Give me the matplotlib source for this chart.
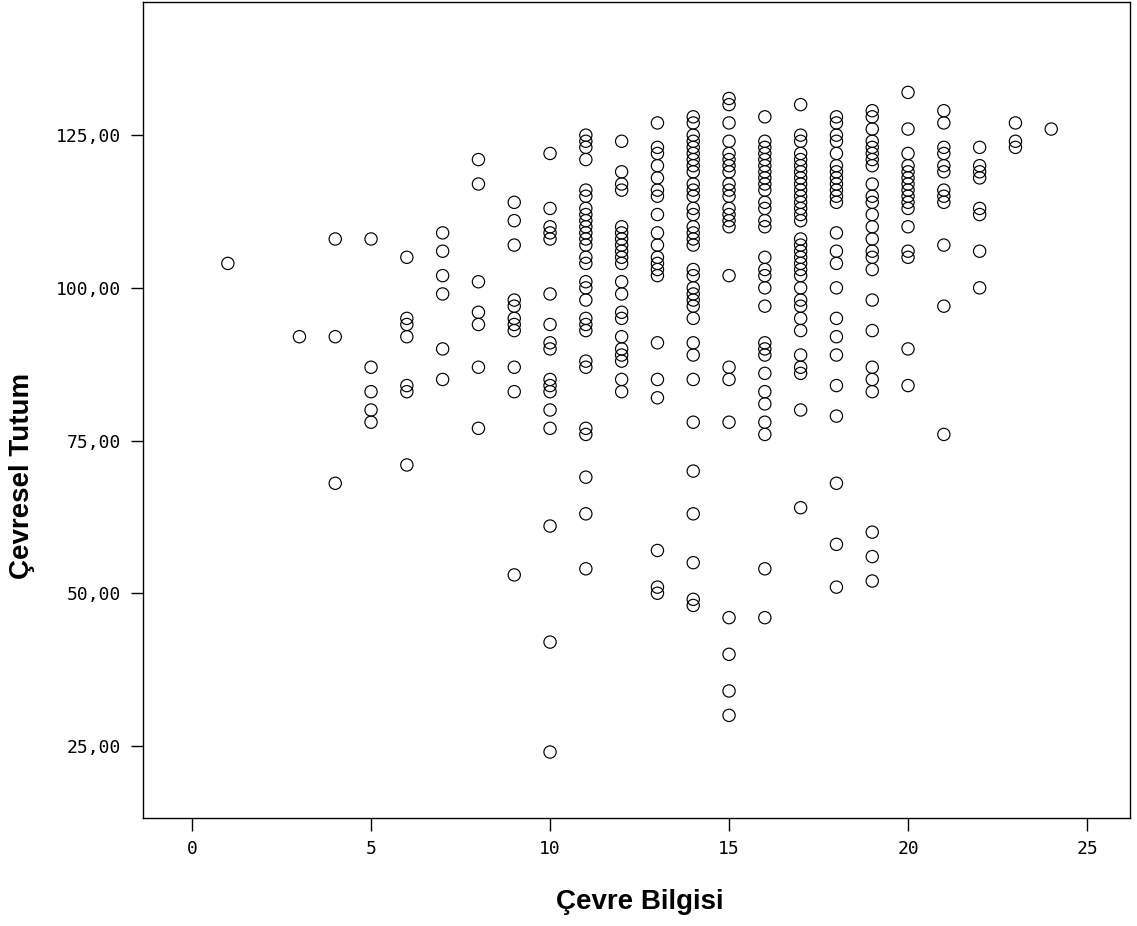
import matplotlib
matplotlib.use("Agg")
import matplotlib.pyplot as plt

# Çevre Bilgisi (x) -> Çevresel Tutum (y) values, read per column
col_1 = [104]
col_3 = [92]
col_4 = [108, 92, 68]
col_5 = [108, 87, 83, 80, 78]
col_6 = [105, 95, 94, 92, 84, 83, 71]
col_7 = [109, 106, 102, 99, 90, 85]
col_8 = [121, 117, 101, 96, 94, 87, 77]
col_9 = [114, 111, 107, 98, 97, 95, 94, 93, 87, 83, 53]
col_10 = [122, 113, 110, 109, 108, 99, 94, 91, 90, 85, 84, 83, 80, 77, 61, 42, 24]
col_11 = [125, 124, 123, 121, 116, 115, 113, 112, 111, 110, 109, 108, 107, 105,
          104, 101, 100, 98, 95, 94, 93, 88, 87, 77, 76, 69, 63, 54]
col_12 = [124, 119, 117, 116, 110, 109, 108, 107, 106, 105, 104, 101, 99, 96,
          95, 92, 90, 89, 88, 85, 83]
col_13 = [127, 123, 122, 120, 118, 116, 115, 112, 109, 107, 105, 104, 103, 102,
          91, 85, 82, 57, 51, 50]
col_14 = [128, 127, 125, 124, 123, 122, 121, 120, 119, 117, 116, 115, 113, 112,
          110, 109, 108, 107, 103, 102, 100, 99, 98, 97, 95, 91, 89, 85, 78, 70,
          63, 55, 49, 48]
col_15 = [131, 130, 127, 124, 122, 121, 120, 119, 117, 116, 115, 113, 112, 111,
          110, 102, 87, 85, 78, 46, 40, 34, 30]
col_16 = [128, 124, 123, 122, 121, 120, 119, 118, 117, 116, 114, 113, 111, 110,
          105, 103, 102, 100, 97, 91, 90, 89, 86, 83, 81, 78, 76, 54, 46]
col_17 = [130, 125, 124, 122, 121, 120, 119, 118, 117, 116, 115, 114, 113, 112,
          111, 108, 107, 106, 105, 104, 103, 102, 100, 98, 97, 95, 93, 89, 87, 86,
          80, 64]
col_18 = [128, 127, 125, 124, 122, 120, 119, 118, 117, 116, 115, 114, 109, 106,
          104, 100, 95, 92, 89, 84, 79, 68, 58, 51]
col_19 = [129, 128, 126, 124, 123, 122, 121, 120, 117, 115, 114, 112, 110, 108,
          106, 105, 103, 98, 93, 87, 85, 83, 60, 56, 52]
col_20 = [132, 126, 122, 120, 119, 118, 117, 116, 115, 114, 113, 110, 106, 105, 90, 84]
col_21 = [129, 127, 123, 122, 120, 119, 116, 115, 114, 107, 97, 76]
col_22 = [123, 120, 119, 118, 113, 112, 106, 100]
col_23 = [127, 124, 123]
col_24 = [126]

columns = {1: col_1, 3: col_3, 4: col_4, 5: col_5, 6: col_6, 7: col_7, 8: col_8,
           9: col_9, 10: col_10, 11: col_11, 12: col_12, 13: col_13, 14: col_14,
           15: col_15, 16: col_16, 17: col_17, 18: col_18, 19: col_19, 20: col_20,
           21: col_21, 22: col_22, 23: col_23, 24: col_24}

x_ticks = [0, 5, 10, 15, 20, 25]
y_ticks = [25, 50, 75, 100, 125]

xs = []
ys = []
for k, vals in columns.items():
    xs += [k] * len(vals)
    ys += vals

fig = plt.figure(figsize=(11.37, 9.26), dpi=100)
ax = fig.add_axes([143 / 1137, 1 - 818 / 926, (1130 - 143) / 1137, (818 - 2) / 926])
ax.scatter(xs, ys, s=78, facecolors='none', edgecolors='black', linewidths=0.85)

ax.set_xlim(-1.37, 26.2)
ax.set_ylim(13.2, 146.8)
ax.set_xticks(x_ticks)
ax.set_yticks(y_ticks)
ax.set_xticklabels([str(t) for t in x_ticks], family='DejaVu Sans Mono', fontsize=13)
ax.set_yticklabels(['%d,00' % t for t in y_ticks], family='DejaVu Sans Mono', fontsize=13)
ax.tick_params(direction='out', length=9, width=1, pad=6.5)
for sp in ax.spines.values():
    sp.set_linewidth(1)

fig.text(640 / 1137, 1 - 902 / 926, 'Çevre Bilgisi', family='Liberation Sans',
         fontweight='bold', fontsize=20, ha='center', va='center')
fig.text(22 / 1137, 1 - 476 / 926, 'Çevresel Tutum', family='Liberation Sans',
         fontweight='bold', fontsize=20, ha='center', va='center', rotation=90)

fig.savefig('out.png', dpi=100)
